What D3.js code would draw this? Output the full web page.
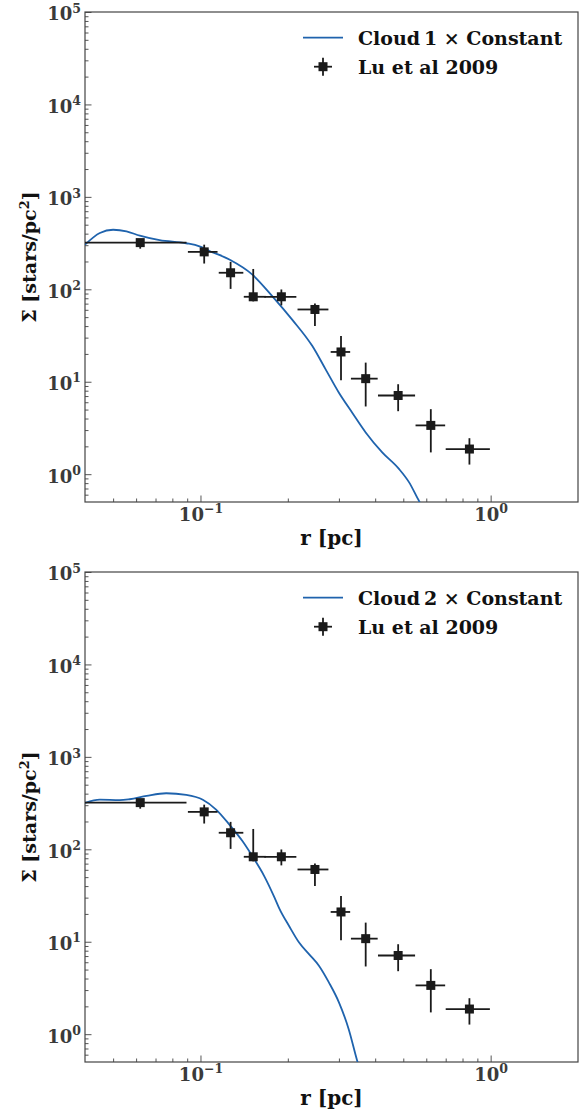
<!DOCTYPE html>
<html>
<head>
<meta charset="utf-8">
<script src="https://cdn.jsdelivr.net/npm/d3@7"></script>
<style>
  html, body { margin: 0; padding: 0; background: #fff; }
  svg { display: block; }
  text { font-family: "DejaVu Serif", serif; font-weight: bold; }
</style>
</head>
<body>
<svg id="chart" width="580" height="1113"></svg>
<script>
// Lu et al. (2009) surface density profile: bin centres, values and error extents
const luR     = [0.062, 0.103, 0.127, 0.152, 0.190, 0.248, 0.305, 0.371, 0.480, 0.622, 0.845];
const luRLow  = [0.030, 0.0905, 0.1156, 0.141, 0.166, 0.216, 0.281, 0.330, 0.409, 0.551, 0.700];
const luRHigh = [0.0895, 0.1145, 0.1405, 0.168, 0.214, 0.276, 0.328, 0.408, 0.549, 0.697, 0.994];
const luSigma = [320, 254, 151, 83, 83, 60.5, 21, 10.8, 7.1, 3.37, 1.87];
const luSigLow  = [275, 190, 101, 74, 67, 40, 10.4, 5.4, 4.8, 1.72, 1.27];
const luSigHigh = [345, 304, 198, 166, 99.6, 70, 31.2, 16.1, 9.4, 5.05, 2.45];

// Model profile of cloud 1 (scaled by a constant)
const cloud1R = [0.040, 0.045, 0.050, 0.0556, 0.0618, 0.0723, 0.0893, 0.0992, 0.1074, 0.1258, 0.151,
                 0.177, 0.207, 0.243, 0.270, 0.300, 0.333, 0.371, 0.423, 0.483, 0.523, 0.568, 0.60];
const cloud1S = [304, 406, 441, 424, 380, 340, 315, 292, 260, 210, 144,
                 84, 47, 24.3, 13.6, 7.6, 4.65, 2.83, 1.72, 1.14, 0.82, 0.505, 0.38];

// Model profile of cloud 2 (scaled by a constant)
const cloud2R = [0.040, 0.045, 0.0527, 0.057, 0.0652, 0.0762, 0.0893, 0.1019, 0.1132, 0.1258, 0.1397,
                 0.151, 0.166, 0.180, 0.187, 0.202, 0.2187, 0.237, 0.256, 0.277, 0.300, 0.324, 0.346, 0.36];
const cloud2S = [318, 345, 340, 348, 378, 404, 388, 344, 269, 185, 122,
                 84, 51, 30, 22.8, 14.8, 9.8, 7.3, 5.5, 3.63, 2.21, 1.14, 0.53, 0.35];

// Axis ticks
const xMajor = [0.1, 1];
const xMajorLabels = [["10", "\u22121"], ["10", "0"]];
const xMinor = [0.05, 0.06, 0.07, 0.08, 0.09, 0.2, 0.3, 0.4, 0.5, 0.6, 0.7, 0.8, 0.9];
const yMajor = [1, 10, 100, 1000, 10000, 100000];
const yMajorLabels = [["10", "0"], ["10", "1"], ["10", "2"], ["10", "3"], ["10", "4"], ["10", "5"]];
const yMinor = [0.6, 0.7, 0.8, 0.9,
  2, 3, 4, 5, 6, 7, 8, 9, 20, 30, 40, 50, 60, 70, 80, 90,
  200, 300, 400, 500, 600, 700, 800, 900, 2000, 3000, 4000, 5000, 6000, 7000, 8000, 9000,
  20000, 30000, 40000, 50000, 60000, 70000, 80000, 90000];

const panels = [
  { top: 12,  curveR: cloud1R, curveS: cloud1S, name: "Cloud\u20091 \u00d7 Constant" },
  { top: 572, curveR: cloud2R, curveS: cloud2S, name: "Cloud\u20092 \u00d7 Constant" }
];

const margin = { left: 85, right: 2 };
const W = 580, plotH = 490;
const plotW = W - margin.left - margin.right;
const lineColor = "#1f63ad";
const ink = "#1a1a1a";
const frameColor = "#444";
const tickLabelColor = "#3a3a3a";

const svg = d3.select("#chart");

function supLabel(sel, parts) {
  sel.text(null);
  sel.append("tspan").text(parts[0]);
  sel.append("tspan").attr("font-size", "12.5px").attr("dy", "-0.62em").text(parts[1]);
}

panels.forEach((p, pi) => {
  const g = svg.append("g").attr("transform", `translate(${margin.left},${p.top})`);

  const x = d3.scaleLog().domain([0.04, 2]).range([0, plotW]);
  const y = d3.scaleLog().domain([0.5, 1e5]).range([plotH, 0]);

  const clipId = "clip" + pi;
  g.append("clipPath").attr("id", clipId)
    .append("rect").attr("width", plotW).attr("height", plotH);

  // minor ticks (inward)
  const xMinorAxis = g.append("g").attr("transform", `translate(0,${plotH})`)
    .call(d3.axisBottom(x).tickValues(xMinor).tickSize(-3.5).tickFormat(""));
  const yMinorAxis = g.append("g")
    .call(d3.axisLeft(y).tickValues(yMinor).tickSize(-3.5).tickFormat(""));

  // major ticks (inward) with power-of-ten labels
  const xAxis = g.append("g").attr("transform", `translate(0,${plotH})`)
    .call(d3.axisBottom(x).tickValues(xMajor).tickSize(-6.5).tickPadding(6)
      .tickFormat((d, i) => ""));
  xAxis.selectAll(".tick text").each(function(d, i) {
    const t = d3.select(this);
    supLabel(t, xMajorLabels[i]);
  });
  const yAxis = g.append("g")
    .call(d3.axisLeft(y).tickValues(yMajor).tickSize(-6.5).tickPadding(4)
      .tickFormat((d, i) => ""));
  yAxis.selectAll(".tick text").each(function(d, i) {
    const t = d3.select(this).attr("dy", "0.44em");
    supLabel(t, yMajorLabels[i]);
  });

  [xMinorAxis, yMinorAxis, xAxis, yAxis].forEach(a => {
    a.select(".domain").remove();
    a.selectAll(".tick line").attr("stroke", "#555").attr("stroke-width", 1);
    a.selectAll(".tick text").attr("fill", tickLabelColor)
      .attr("font-family", "DejaVu Serif").attr("font-weight", "bold").attr("font-size", "18px");
  });

  // frame
  g.append("rect").attr("width", plotW).attr("height", plotH)
    .attr("fill", "none").attr("stroke", frameColor).attr("stroke-width", 1.2);

  const plot = g.append("g").attr("clip-path", `url(#${clipId})`);

  // model curve
  const curveData = p.curveR.map((r, i) => [r, p.curveS[i]]);
  plot.append("path").datum(curveData)
    .attr("fill", "none").attr("stroke", lineColor).attr("stroke-width", 1.8)
    .attr("d", d3.line().x(d => x(d[0])).y(d => y(d[1])).curve(d3.curveMonotoneX));

  // error bars and markers
  const pts = luR.map((r, i) => ({
    r, s: luSigma[i], rl: luRLow[i], rh: luRHigh[i], sl: luSigLow[i], sh: luSigHigh[i]
  }));
  const eb = plot.append("g").attr("stroke", ink).attr("stroke-width", 1.8);
  eb.selectAll("line.h").data(pts).join("line").attr("class", "h")
    .attr("x1", d => x(d.rl)).attr("x2", d => x(d.rh))
    .attr("y1", d => y(d.s)).attr("y2", d => y(d.s));
  eb.selectAll("line.v").data(pts).join("line").attr("class", "v")
    .attr("x1", d => x(d.r)).attr("x2", d => x(d.r))
    .attr("y1", d => y(d.sl)).attr("y2", d => y(d.sh));
  const ms = 9;
  plot.selectAll("rect.m").data(pts).join("rect").attr("class", "m")
    .attr("x", d => x(d.r) - ms / 2).attr("y", d => y(d.s) - ms / 2)
    .attr("width", ms).attr("height", ms).attr("fill", ink);

  // legend
  const lg = g.append("g");
  lg.append("line").attr("x1", 218).attr("x2", 258).attr("y1", 25.7).attr("y2", 25.7)
    .attr("stroke", lineColor).attr("stroke-width", 1.8);
  lg.append("text").attr("x", 273).attr("y", 32.5).attr("font-size", "19px").attr("fill", "#111")
    .text(p.name);
  const mx = 238, my = 54.7;
  lg.append("line").attr("x1", mx - 9).attr("x2", mx + 9).attr("y1", my).attr("y2", my)
    .attr("stroke", ink).attr("stroke-width", 1.8);
  lg.append("line").attr("x1", mx).attr("x2", mx).attr("y1", my - 9).attr("y2", my + 9)
    .attr("stroke", ink).attr("stroke-width", 1.8);
  lg.append("rect").attr("x", mx - 4.5).attr("y", my - 4.5).attr("width", 9).attr("height", 9)
    .attr("fill", ink);
  lg.append("text").attr("x", 273).attr("y", 62).attr("font-size", "19px").attr("fill", "#111")
    .text("Lu et al 2009");

  // axis titles
  g.append("text").attr("x", plotW / 2).attr("y", plotH + 43)
    .attr("text-anchor", "middle").attr("font-size", "20px").attr("fill", "#111")
    .text("r [pc]");
  const yl = g.append("text")
    .attr("transform", `translate(${36 - margin.left},${plotH / 2}) rotate(-90)`)
    .attr("text-anchor", "middle").attr("font-size", "19px").attr("fill", "#111");
  yl.append("tspan").text("\u03a3 [stars/pc");
  yl.append("tspan").attr("font-size", "13px").attr("dy", "-0.55em").text("2");
  yl.append("tspan").attr("dy", "0.4em").text("]");
});
</script>
</body>
</html>
